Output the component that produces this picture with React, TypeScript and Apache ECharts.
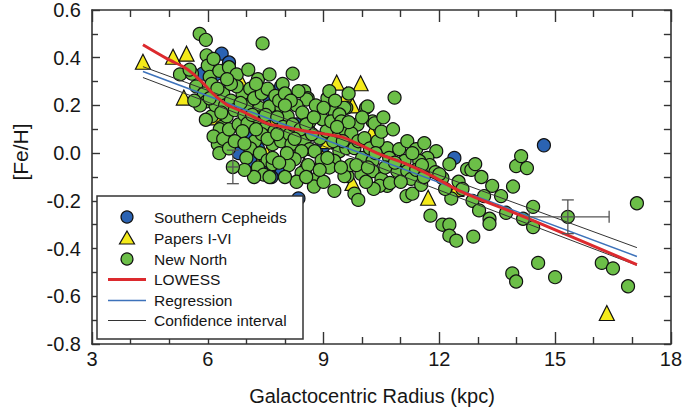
import React, { useEffect, useRef } from "react";
import * as echarts from "echarts";

const xTicks = [3, 6, 9, 12, 15, 18];
const yTicks = [-0.8, -0.6, -0.4, -0.2, 0.0, 0.2, 0.4, 0.6];

const southernCepheids: number[][] = [
  [6.36, 0.417], [5.87, 0.333], [6.49, 0.354], [6.55, 0.38], [6.2, 0.33], [6.7, 0.3],
  [6.9, 0.2], [7.2, 0.13], [7.4, 0.1], [7.0, 0.08], [6.8, 0.0], [7.3, 0.02],
  [7.5, -0.02], [7.78, -0.067], [7.86, -0.075], [7.91, -0.083], [7.16, 0.071],
  [8.35, -0.19], [8.0, 0.05], [8.3, 0.12], [7.6, 0.23], [6.5, 0.05], [7.1, -0.03],
  [8.6, 0.1], [9.0, 0.03], [7.9, 0.28], [7.65, -0.1], [7.4, -0.08], [12.39, -0.02], [14.71, 0.033],
];

const papersIVI: number[][] = [
  [4.32, 0.383], [5.1, 0.404], [5.45, 0.417], [5.38, 0.233], [6.83, 0.31], [9.34, 0.296],
  [9.96, 0.293], [9.6, 0.245], [9.75, 0.2], [10.24, 0.083], [7.14, 0.0375], [7.53, -0.004],
  [6.49, 0.071], [8.97, -0.02], [9.75, -0.125], [11.71, -0.187], [16.34, -0.67], [6.9, 0.12],
  [7.3, -0.05], [7.7, 0.13], [8.2, 0.04], [9.1, 0.05], [12.44, -0.15], [7.35, -0.08],
  [6.2, 0.15], [8.5, -0.05],
];

const newNorth: number[][] = [
  [5.79, 0.5], [5.95, 0.475], [7.42, 0.46], [5.97, 0.41], [6.0, 0.367], [5.28, 0.33],
  [5.59, 0.333], [5.53, 0.35], [6.15, 0.395], [6.05, 0.32], [6.3, 0.345], [6.55, 0.36],
  [6.75, 0.33], [7.05, 0.35], [7.3, 0.31], [7.6, 0.33], [8.2, 0.333], [7.94, 0.29],
  [8.5, 0.26], [8.59, 0.23], [9.1, 0.23], [8.56, 0.225], [9.28, 0.175], [9.59, 0.19],
  [10.1, 0.19], [10.27, 0.133], [9.54, 0.19], [10.84, 0.233], [10.14, 0.196], [10.32, 0.125],
  [5.7, 0.28], [5.9, 0.25], [5.97, 0.217], [5.8, 0.2], [6.1, 0.29], [6.1, 0.154],
  [6.36, 0.11], [6.26, 0.0375], [6.31, 0.1], [6.49, 0.154], [6.2, 0.2], [6.4, 0.25],
  [6.25, 0.27], [6.45, 0.2], [5.95, 0.14], [6.15, 0.07], [6.4, 0.06], [6.55, 0.1],
  [6.6, 0.22], [6.7, 0.18], [6.8, 0.12], [6.9, 0.25], [6.85, 0.05], [6.95, 0.16],
  [6.75, 0.28], [6.6, 0.29], [6.5, 0.31],
  [7.0, 0.196], [7.34, 0.19], [7.6, 0.196], [7.91, 0.19], [8.07, 0.154], [7.03, 0.125],
  [7.47, 0.12], [7.73, 0.092], [7.68, 0.0375], [7.22, 0.05], [6.9, 0.092], [7.1, 0.27],
  [7.2, 0.23], [7.4, 0.25], [7.55, 0.27], [7.75, 0.24], [7.85, 0.22], [7.3, 0.15],
  [7.15, 0.16], [7.5, 0.16], [7.8, 0.15], [7.1, 0.02], [7.35, 0.0], [7.55, -0.03],
  [7.68, -0.046], [7.68, -0.02], [7.0, -0.02], [7.3, -0.06], [7.45, -0.09], [7.6, -0.1],
  [7.4, 0.08], [7.9, 0.05], [7.95, 0.11],
  [8.12, 0.079], [8.17, 0.0375], [8.5, 0.05], [8.64, 0.017], [8.77, 0.008], [8.43, 0.008],
  [8.25, -0.025], [8.9, 0.0625], [8.9, 0.175], [8.64, 0.133], [8.97, 0.142], [8.3, 0.2],
  [8.45, 0.17], [8.2, 0.12], [8.4, 0.1], [8.7, 0.08], [8.8, 0.2], [8.35, 0.26],
  [8.0, 0.25], [8.43, -0.083], [8.6, -0.05], [8.85, -0.104], [8.1, -0.05], [8.3, -0.12],
  [8.75, -0.14], [8.95, -0.03],
  [9.08, 0.092], [9.2, 0.133], [9.41, 0.162], [9.41, 0.079], [9.41, 0.008], [9.59, 0.021],
  [9.28, -0.033], [9.28, -0.158], [9.62, -0.096], [9.46, 0.133], [9.54, 0.1], [9.88, 0.12],
  [9.72, 0.083], [9.8, 0.021], [9.54, -0.096], [9.98, -0.088], [10.0, -0.02], [9.8, -0.17],
  [9.9, -0.196], [9.15, -0.06], [9.0, -0.12], [9.7, -0.05], [9.25, 0.05], [9.9, 0.05],
  [9.65, 0.25], [9.15, 0.26],
  [10.06, 0.0625], [10.27, -0.033], [10.27, -0.075], [10.5, -0.108], [10.65, -0.137], [10.65, 0.021],
  [10.7, -0.02], [10.45, -0.137], [10.72, -0.125], [10.2, 0.02], [10.4, 0.05], [10.5, 0.09],
  [10.8, 0.1], [10.96, 0.017], [10.91, -0.075], [10.3, -0.15], [10.1, -0.12], [10.55, 0.15],
  [11.17, 0.05], [11.4, 0.017], [11.61, 0.042], [11.92, 0.008], [11.69, -0.02], [11.48, -0.033],
  [11.1, -0.033], [11.17, -0.075], [11.27, -0.108], [11.15, -0.18], [11.3, -0.17], [11.53, -0.133],
  [11.77, -0.262], [11.75, -0.05], [11.9, -0.08], [11.4, -0.07], [11.6, -0.1],
  [12.08, -0.104], [12.26, -0.046], [12.72, -0.067], [12.31, -0.19], [12.08, -0.3], [12.26, -0.3],
  [12.26, -0.346], [12.44, -0.367], [12.88, -0.35], [12.83, -0.07], [12.93, -0.046], [12.86, -0.2],
  [12.0, -0.088], [12.5, -0.12], [12.15, -0.15], [12.6, -0.15],
  [13.09, -0.1], [13.37, -0.137], [13.91, -0.14], [13.6, -0.18], [13.16, -0.18], [13.03, -0.24],
  [13.3, -0.275], [13.3, -0.296], [13.73, -0.25], [13.99, -0.054], [13.89, -0.504], [13.99, -0.538],
  [14.12, -0.0125], [14.27, -0.0625], [14.43, -0.225], [14.17, -0.275], [14.43, -0.31], [14.56, -0.46],
  [15.0, -0.52], [16.21, -0.46], [16.5, -0.483], [16.89, -0.558], [17.12, -0.21],
  [6.3, 0.0], [6.55, 0.02], [6.7, 0.05], [6.95, 0.04], [7.25, 0.1], [7.55, 0.06],
  [7.8, 0.08], [8.05, 0.0], [8.25, 0.06], [8.55, 0.12], [8.75, 0.15], [9.0, 0.19],
  [9.3, 0.22], [9.5, 0.05], [9.65, 0.13], [10.0, 0.15], [10.35, 0.0], [10.6, -0.06],
  [10.85, -0.04], [11.0, -0.12], [11.3, 0.0], [11.55, -0.05], [8.15, 0.22], [7.25, 0.29],
  [6.85, 0.21], [6.35, 0.17], [6.05, 0.23], [5.65, 0.22], [8.55, -0.1], [8.9, -0.07],
  [9.1, -0.02], [9.45, -0.06], [9.85, -0.05], [10.15, -0.06], [7.85, -0.04], [8.0, -0.1],
  [7.2, -0.1], [6.95, -0.07], [9.35, 0.11], [8.0, 0.2],
];

// [x, y, xLow, xHigh, yLow, yHigh, xCaps]
const errorBars: number[][] = [
  [6.65, -0.058, 6.5, 6.8, -0.128, 0.0125, 0],
  [15.33, -0.267, 14.33, 16.4, -0.3375, -0.196, 1],
];

const lowess: number[][] = [
  [4.32, 0.454], [4.94, 0.396], [5.45, 0.354], [5.84, 0.3], [6.13, 0.25], [6.49, 0.204],
  [7.0, 0.167], [7.53, 0.125], [7.86, 0.113], [8.56, 0.092], [9.08, 0.079], [9.49, 0.067],
  [9.85, 0.042], [10.45, -0.004], [11.15, -0.046], [11.82, -0.096], [12.52, -0.158],
  [14.25, -0.27], [17.12, -0.467],
];
const regression: number[][] = [[4.32, 0.342], [17.12, -0.433]];
const ciUpper: number[][] = [[4.32, 0.3625], [17.12, -0.396]];
const ciLower: number[][] = [[4.32, 0.317], [17.12, -0.47]];

const legendLabels = ["Southern Cepheids", "Papers I-VI", "New North", "LOWESS", "Regression", "Confidence interval"];

const FONT = "'Liberation Sans', Arial, sans-serif";
const BLUE = "#2b63b3";
const YELLOW = "#f4ea1a";
const GREEN = "#6cbf48";
const RED = "#dc2a2e";
const REGBLUE = "#3d72ba";
const TXT = "#161616";

export default function App() {
  const ref = useRef<HTMLDivElement>(null);
  useEffect(() => {
    if (!ref.current) return;
    const chart = echarts.init(ref.current, null, { renderer: "svg" });
    const axisCommon = {
      axisLine: { show: true, onZero: false, lineStyle: { color: "#333", width: 1.6 } },
      splitLine: { show: false },
    };
    const lx = 97, ly = 196, rowY = [217, 238, 259, 279.5, 300.5, 320.5];
    const legendGraphics: any[] = [
      { type: "rect", z: 100, shape: { x: lx, y: ly, width: 206, height: 143 }, style: { fill: "#fff", stroke: "#333", lineWidth: 1.5 } },
      { type: "circle", z: 101, shape: { cx: 127, cy: rowY[0], r: 6 }, style: { fill: BLUE, stroke: "#111", lineWidth: 1.2 } },
      { type: "polygon", z: 101, shape: { points: [[127, rowY[1] - 7], [134.5, rowY[1] + 6], [119.5, rowY[1] + 6]] }, style: { fill: YELLOW, stroke: "#111", lineWidth: 1.2 } },
      { type: "circle", z: 101, shape: { cx: 127, cy: rowY[2], r: 6 }, style: { fill: GREEN, stroke: "#111", lineWidth: 1.2 } },
      { type: "line", z: 101, shape: { x1: 108, y1: rowY[3], x2: 146, y2: rowY[3] }, style: { stroke: RED, lineWidth: 3 } },
      { type: "line", z: 101, shape: { x1: 108, y1: rowY[4], x2: 146, y2: rowY[4] }, style: { stroke: REGBLUE, lineWidth: 1.5 } },
      { type: "line", z: 101, shape: { x1: 108, y1: rowY[5], x2: 146, y2: rowY[5] }, style: { stroke: "#333", lineWidth: 1 } },
    ];
    legendLabels.forEach((t, i) => {
      legendGraphics.push({
        type: "text", z: 101, x: 154, y: rowY[i],
        style: { text: t, fill: TXT, font: `15.5px ${FONT}`, textAlign: "left", textVerticalAlign: "middle", verticalAlign: "middle" },
      });
    });

    const option: any = {
      animation: false,
      backgroundColor: "#fff",
      grid: { left: 92, right: 13, top: 8, bottom: 69, containLabel: false },
      xAxis: [
        {
          type: "value", min: xTicks[0], max: xTicks[xTicks.length - 1], interval: 3, position: "bottom",
          ...axisCommon,
          axisTick: { show: true, inside: true, length: 12, lineStyle: { color: "#333", width: 1.4 } },
          minorTick: { show: true, splitNumber: 3, length: 7, lineStyle: { color: "#333", width: 1.4 } },
          axisLabel: { show: true, fontSize: 20, fontFamily: FONT, color: TXT, margin: 5 },
        },
        {
          type: "value", min: xTicks[0], max: xTicks[xTicks.length - 1], interval: 3, position: "top",
          ...axisCommon,
          axisTick: { show: true, inside: true, length: 12, lineStyle: { color: "#333", width: 1.4 } },
          minorTick: { show: true, splitNumber: 3, length: 7, lineStyle: { color: "#333", width: 1.4 } },
          axisLabel: { show: false },
        },
      ],
      yAxis: [
        {
          type: "value", min: yTicks[0], max: yTicks[yTicks.length - 1], interval: 0.2, position: "left",
          ...axisCommon,
          axisTick: { show: true, inside: true, length: 8, lineStyle: { color: "#333", width: 1.4 } },
          minorTick: { show: true, splitNumber: 2, length: 6, lineStyle: { color: "#333", width: 1.4 } },
          axisLabel: { show: true, fontSize: 20, fontFamily: FONT, color: TXT, margin: 11, formatter: (v: number) => v.toFixed(1) },
        },
        {
          type: "value", min: yTicks[0], max: yTicks[yTicks.length - 1], interval: 0.2, position: "right",
          ...axisCommon,
          axisTick: { show: true, inside: true, length: 7, lineStyle: { color: "#333", width: 1.4 } },
          minorTick: { show: true, splitNumber: 2, length: 7, lineStyle: { color: "#333", width: 1.4 } },
          axisLabel: { show: false },
        },
      ],
      graphic: [
        {
          type: "text", x: 372, y: 396,
          style: { text: "Galactocentric Radius (kpc)", fill: TXT, font: `20px ${FONT}`, textAlign: "center", textVerticalAlign: "middle", verticalAlign: "middle" },
        },
        {
          type: "text", x: 20, y: 152, rotation: Math.PI / 2,
          style: { text: "[Fe/H]", fill: TXT, font: `21px ${FONT}`, textAlign: "center", textVerticalAlign: "middle", verticalAlign: "middle" },
        },
        ...legendGraphics,
      ],
      series: [
        {
          name: "Southern Cepheids", type: "scatter", data: southernCepheids, symbol: "circle", symbolSize: 13,
          itemStyle: { color: BLUE, borderColor: "#111", borderWidth: 1.2, opacity: 1 }, z: 2,
        },
        {
          name: "Papers I-VI", type: "scatter", data: papersIVI, symbol: "triangle", symbolSize: 15,
          itemStyle: { color: YELLOW, borderColor: "#111", borderWidth: 1.2, opacity: 1 }, z: 3,
        },
        {
          name: "New North", type: "scatter", data: newNorth.concat(errorBars.map((e) => [e[0], e[1]])), symbol: "circle", symbolSize: 13,
          itemStyle: { color: GREEN, borderColor: "#111", borderWidth: 1.2, opacity: 1 }, z: 4,
        },
        {
          name: "Confidence upper", type: "line", data: ciUpper, showSymbol: false, symbol: "none", z: 5,
          lineStyle: { color: "#333", width: 1 },
        },
        {
          name: "Confidence lower", type: "line", data: ciLower, showSymbol: false, symbol: "none", z: 5,
          lineStyle: { color: "#333", width: 1 },
        },
        {
          name: "Regression", type: "line", data: regression, showSymbol: false, symbol: "none", z: 6,
          lineStyle: { color: REGBLUE, width: 1.5 },
        },
        {
          name: "LOWESS", type: "line", data: lowess, showSymbol: false, symbol: "none", z: 7, smooth: 0.3,
          lineStyle: { color: RED, width: 3 },
        },
        {
          name: "Error bars", type: "custom", data: errorBars, z: 8,
          encode: { x: 0, y: 1 },
          renderItem: (params: any, api: any) => {
            const x = api.value(0), y = api.value(1);
            const xl = api.value(2), xh = api.value(3), yl = api.value(4), yh = api.value(5);
            const caps = api.value(6);
            const pl = api.coord([xl, y]);
            const ph = api.coord([xh, y]);
            const pb = api.coord([x, yl]);
            const pt = api.coord([x, yh]);
            const cap = 6;
            const st = { stroke: "#555", lineWidth: 1.3 };
            const children: any[] = [
              { type: "line", shape: { x1: pb[0], y1: pb[1], x2: pt[0], y2: pt[1] }, style: st },
              { type: "line", shape: { x1: pb[0] - cap, y1: pb[1], x2: pb[0] + cap, y2: pb[1] }, style: st },
              { type: "line", shape: { x1: pt[0] - cap, y1: pt[1], x2: pt[0] + cap, y2: pt[1] }, style: st },
              { type: "line", shape: { x1: pl[0], y1: pl[1], x2: ph[0], y2: ph[1] }, style: st },
            ];
            if (caps) {
              children.push({ type: "line", shape: { x1: pl[0], y1: pl[1] - cap, x2: pl[0], y2: pl[1] + cap }, style: st });
              children.push({ type: "line", shape: { x1: ph[0], y1: ph[1] - cap, x2: ph[0], y2: ph[1] + cap }, style: st });
            }
            return { type: "group", children };
          },
        },
      ],
    };
    chart.setOption(option);
    return () => chart.dispose();
  }, []);
  return <div ref={ref} style={{ position: "fixed", left: 0, top: 0, width: 685, height: 413 }} />;
}
